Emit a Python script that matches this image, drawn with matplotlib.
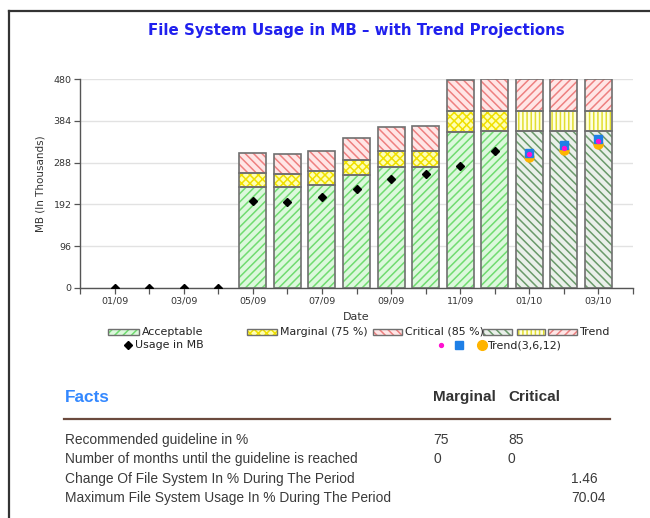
import numpy as np
import matplotlib.pyplot as plt
from matplotlib.patches import Rectangle

# months on the x axis (first 4 have no capacity data, last 3 are projections)
months = ['01/09', '02/09', '03/09', '04/09', '05/09', '06/09', '07/09', '08/09',
          '09/09', '10/09', '11/09', '12/09', '01/10', '02/10', '03/10']
usage = [0, 0, 0, 0, 200, 197, 209, 227, 250, 261, 280, 315]  # 01/09 .. 12/09

bar_months = months[4:]
acceptable = [233, 232, 236, 259, 278, 279, 359, 360, 360, 360, 360]
marginal = [31, 31, 32, 35, 37, 37, 48, 48, 48, 48, 48]
critical = [47, 46, 47, 51, 56, 56, 71, 72, 72, 72, 72]
n_actual = 8  # 05/09 .. 12/09 measured, rest is trend

trend_months = ['01/10', '02/10', '03/10']
trend3 = [308, 322, 338]
trend6 = [311, 328, 342]
trend12 = [302, 317, 331]

yticks = [0, 96, 192, 288, 384, 480]

facts_rows = ['Recommended guideline in %',
              'Number of months until the guideline is reached',
              'Change Of File System In % During The Period',
              'Maximum File System Usage In % During The Period']
facts_marg = ['75', '0', '', '']
facts_crit = ['85', '0', '', '']
facts_total = ['', '', '1.46', '70.04']

plt.rcParams['hatch.linewidth'] = 1.1

W, H = 650, 518
fig = plt.figure(figsize=(6.5, 5.18), dpi=100)
ax = fig.add_axes([80 / W, 1 - 287.7 / H, 553 / W, 208.4 / H])

# styles: (face, hatch colour, hatch)
st_act = ('#dcf8dc', '#70dc70', '////')
st_mar = ('#ffffb4', '#f0e000', 'xxxx')
st_cri = ('#ffe6e6', '#ee8080', '\\\\\\\\')
st_tact = ('#eaf0ea', '#6a9a6a', '\\\\\\\\')
st_tmar = ('#ffffe0', '#e2de30', '||||')
st_tcri = ('#ffe6e6', '#ee8080', '////')

bw = 0.78


def hbar(x, h, b, st):
    ax.bar(x, h, bottom=b, width=bw, color=st[0], edgecolor=st[1], hatch=st[2],
           linewidth=0, zorder=2)
    ax.bar(x, h, bottom=b, width=bw, fill=False, edgecolor='#707070',
           linewidth=1.2, zorder=3)


for i, m in enumerate(bar_months):
    x = months.index(m) + 1
    a, mg, c = acceptable[i], marginal[i], critical[i]
    if i < n_actual:
        sts = (st_act, st_mar, st_cri)
    else:
        sts = (st_tact, st_tmar, st_tcri)
    hbar(x, a, 0, sts[0])
    hbar(x, mg, a, sts[1])
    hbar(x, c, a + mg, sts[2])

ux = np.arange(1, len(usage) + 1)
ax.plot(ux, usage, 'D', color='black', ms=4.2, ls='none', zorder=5)

tx = [months.index(m) + 1 for m in trend_months]
ax.plot(tx, trend12, 'o', color='#ffb400', ms=6.5, ls='none', zorder=5)
ax.plot(tx, trend6, 's', color='#1e7fe6', ms=6, ls='none', zorder=6)
ax.plot(tx, trend3, 'o', color='#ff10d0', ms=2.8, ls='none', zorder=7)

ax.set_xlim(0, len(months) + 1)
ax.set_ylim(0, 480)
ax.set_yticks(yticks)
ax.set_yticklabels([str(v) for v in yticks], fontsize=6.8, color='#333333')
ax.set_xticks(np.arange(0, len(months) + 2))
xl = [''] + [m if k % 2 == 0 else '' for k, m in enumerate(months)] + ['']
ax.set_xticklabels(xl, fontsize=6.8, color='#333333')
ax.tick_params(axis='both', length=4, width=0.9, color='#555555', pad=2)
ax.yaxis.grid(True, color='#e2e2e2', lw=1)
ax.set_axisbelow(True)
for s in ['top', 'right']:
    ax.spines[s].set_visible(False)
for s in ['left', 'bottom']:
    ax.spines[s].set_color('#555555')
    ax.spines[s].set_linewidth(1.0)
ax.set_xlabel('Date', fontsize=8, color='#333333', labelpad=5)
ax.set_ylabel('MB (In Thousands)', fontsize=7.5, color='#333333', labelpad=6)

# overlay in pixel coordinates for frame, title, legend and facts table
ov = fig.add_axes([0, 0, 1, 1])
ov.set_xlim(0, W)
ov.set_ylim(H, 0)
ov.set_axis_off()
ov.patch.set_alpha(0)

ov.plot([8.5, 8.5], [H, 10.5], color='#333333', lw=1.6)
ov.plot([8.5, W], [10.5, 10.5], color='#333333', lw=1.6)

ov.text(356, 31, 'File System Usage in MB \u2013 with Trend Projections',
        ha='center', va='center', fontsize=10.8, fontweight='bold', color='#2020ee')


def lbox(x0, x1, st):
    ov.add_patch(Rectangle((x0, 329), x1 - x0, 6, facecolor=st[0], edgecolor=st[1],
                           hatch=st[2], lw=0))
    ov.add_patch(Rectangle((x0, 329), x1 - x0, 6, fill=False, edgecolor='#707070', lw=1))


lfs = 7.9
lbox(108, 139, st_act)
ov.text(142, 332, 'Acceptable', fontsize=lfs, va='center', color='#222222')
lbox(247, 277, st_mar)
ov.text(280, 332, 'Marginal (75 %)', fontsize=lfs, va='center', color='#222222')
lbox(373, 402, st_cri)
ov.text(405, 332, 'Critical (85 %)', fontsize=lfs, va='center', color='#222222')
lbox(483, 512, st_tact)
lbox(517, 545, st_tmar)
lbox(548, 577, st_tcri)
ov.text(580, 332, 'Trend', fontsize=lfs, va='center', color='#222222')

ov.plot([128], [345], 'D', color='black', ms=4)
ov.text(135, 345, 'Usage in MB', fontsize=lfs, va='center', color='#222222')
ov.plot([441], [345], 'o', color='#ff10d0', ms=2.8)
ov.plot([459], [345], 's', color='#1e7fe6', ms=6)
ov.plot([482], [345], 'o', color='#ffb400', ms=7)
ov.text(488, 345, 'Trend(3,6,12)', fontsize=lfs, va='center', color='#222222')

# facts table
tf = 'Liberation Sans'
ov.text(65, 397, 'Facts', fontsize=12.4, fontweight='bold', color='#3388ff',
        va='center', family=tf)
ov.text(433, 397, 'Marginal', fontsize=11, fontweight='bold', color='#333333',
        va='center', family=tf)
ov.text(508, 397, 'Critical', fontsize=11, fontweight='bold', color='#333333',
        va='center', family=tf)
ov.plot([64, 610], [419, 419], color='#6b4a3e', lw=1.6)
rows_y = [440, 459, 479, 498]
for r, y in enumerate(rows_y):
    ov.text(65, y, facts_rows[r], fontsize=9.9, color='#3a3a3a', va='center', family=tf)
    ov.text(433, y, facts_marg[r], fontsize=9.9, color='#3a3a3a', va='center', family=tf)
    ov.text(508, y, facts_crit[r], fontsize=9.9, color='#3a3a3a', va='center', family=tf)
    ov.text(571, y, facts_total[r], fontsize=9.9, color='#3a3a3a', va='center', family=tf)

fig.savefig('out.png', dpi=100)
